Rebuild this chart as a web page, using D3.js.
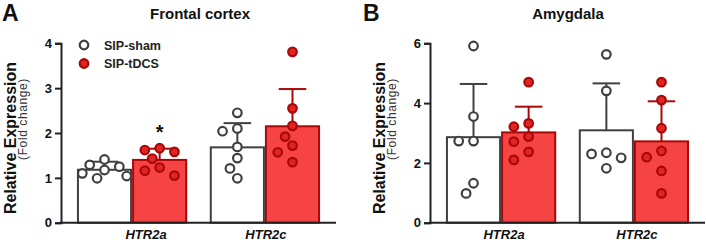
<!DOCTYPE html>
<html>
<head>
<meta charset="UTF-8">
<script src="https://cdn.jsdelivr.net/npm/d3@7"></script>
<style>
  body { margin: 0; background: #fff; }
  text { font-family: "Liberation Sans", Arial, sans-serif; fill: #111; }
</style>
</head>
<body>
<svg width="706" height="243"></svg>
<script>
// genes on the x axis, groups inside each gene
var genes = ["HTR2a", "HTR2c"];
var groups = ["SIP-sham", "SIP-tDCS"];

// frontal cortex: bar means, SD tops, individual animals
var fcMean = [[1.18, 1.40], [1.68, 2.15]];
var fcSdTop = [[1.36, 1.65], [2.22, 2.98]];
var fcPoints = [
  [[1.41, 1.29, 1.25, 1.175, 1.10, 1.04, 0.99], [1.66, 1.62, 1.58, 1.43, 1.23, 1.16, 1.05]],
  [[2.45, 2.10, 2.04, 1.69, 1.44, 1.21, 0.99], [3.81, 2.55, 2.16, 1.92, 1.72, 1.57, 1.35]]
];

// amygdala
var amMean = [[2.86, 3.02], [3.09, 2.72]];
var amSdTop = [[4.64, 3.88], [4.66, 4.06]];
var amPoints = [
  [[5.91, 3.55, 2.73, 2.73, 1.32, 0.98], [4.70, 3.32, 3.21, 2.88, 2.71, 2.37, 2.10]],
  [[5.63, 4.41, 2.34, 2.30, 2.17, 1.82], [4.70, 4.10, 3.16, 2.40, 2.19, 1.73, 0.98]]
];

var fcTicks = [0, 1, 2, 3, 4];
var amTicks = [0, 2, 4, 6];

var col = {
  "SIP-sham": {fill: "#ffffff", stroke: "#404040", dot: "#ffffff"},
  "SIP-tDCS": {fill: "#f64444", stroke: "#a80808", dot: "#e02525"}
};

var svg = d3.select("svg");

function panel(o) {
  var g = svg.append("g");
  var y = d3.scaleLinear().domain([0, o.max]).range([222.7, 43.3]);
  var x0 = d3.scaleBand().domain(genes).range([o.x0, o.x1]).paddingInner(0.17).paddingOuter(0.12);
  var x1 = d3.scaleBand().domain(groups).range([0, x0.bandwidth()]);
  var r = 4.3;

  g.append("text").attr("x", o.letterX).attr("y", 21)
    .style("font-size", "23px").style("font-weight", "bold").text(o.letter);
  g.append("text").attr("x", o.titleX).attr("y", 19).attr("text-anchor", "middle")
    .style("font-size", "15px").style("font-weight", "bold").text(o.title);

  // y labels
  g.append("text").attr("transform", "translate(" + (o.x0 - 45.5) + ",138) rotate(-90)")
    .attr("text-anchor", "middle").style("font-size", "16px").style("font-weight", "bold")
    .text("Relative Expression");
  g.append("text").attr("transform", "translate(" + (o.x0 - 34) + ",119) rotate(-90)")
    .attr("text-anchor", "middle").style("font-size", "12px").style("letter-spacing", "0.6px")
    .style("fill", "#333").text("(Fold change)");

  genes.forEach(function (gene, gi) {
    groups.forEach(function (grp, si) {
      var bx = x0(gene) + x1(grp), bw = x1.bandwidth(), cx = bx + bw / 2;
      var c = col[grp];
      // error bar (upper only)
      g.append("line").attr("x1", cx).attr("x2", cx)
        .attr("y1", y(o.mean[gi][si])).attr("y2", y(o.sd[gi][si]))
        .attr("stroke", c.stroke).attr("stroke-width", 2);
      g.append("line").attr("x1", cx - bw / 4).attr("x2", cx + bw / 4)
        .attr("y1", y(o.sd[gi][si])).attr("y2", y(o.sd[gi][si]))
        .attr("stroke", c.stroke).attr("stroke-width", 2);
      g.append("rect").attr("x", bx + 1).attr("width", bw - 2)
        .attr("y", y(o.mean[gi][si])).attr("height", y(0) - y(o.mean[gi][si]))
        .attr("fill", c.fill).attr("stroke", c.stroke).attr("stroke-width", 2);

      // simple greedy swarm so dots don't sit on top of each other
      var placed = [], step = 7.4;
      var cand = [0, -1, 1, -2, 2, -3, 3];
      o.pts[gi][si].forEach(function (v) {
        var py = y(v), px = cx;
        for (var k = 0; k < cand.length; k++) {
          var tx = cx + cand[k] * step;
          var hit = placed.some(function (p) {
            return Math.hypot(p[0] - tx, p[1] - py) < 2 * r + 2.5;
          });
          if (!hit) { px = tx; break; }
        }
        placed.push([px, py]);
      });
      g.selectAll(null).data(placed).enter().append("circle")
        .attr("cx", function (d) { return d[0]; }).attr("cy", function (d) { return d[1]; })
        .attr("r", r).attr("fill", c.dot).attr("stroke", c.stroke).attr("stroke-width", 2.2);
    });
  });

  // axes
  var ya = g.append("g").attr("transform", "translate(" + o.x0 + ",0)")
    .call(d3.axisLeft(y).tickValues(o.ticks).tickSize(6).tickFormat(d3.format("d")));
  ya.select(".domain").attr("stroke", "#222").attr("stroke-width", 2);
  ya.selectAll(".tick line").attr("stroke", "#222").attr("stroke-width", 2);
  ya.selectAll(".tick text").style("font-size", "13px").style("font-weight", "bold")
    .style("font-family", "Liberation Sans, Arial, sans-serif").attr("fill", "#111");

  var xa = g.append("g").attr("transform", "translate(0," + y(0) + ")")
    .call(d3.axisBottom(x0).tickSize(0).tickPadding(7));
  xa.select(".domain").attr("stroke", "#222").attr("stroke-width", 2)
    .attr("d", "M" + (o.x0 - 1) + ",0H" + o.x1);
  xa.selectAll(".tick text").style("font-size", "13px").style("font-weight", "bold")
    .style("font-style", "italic").style("font-family", "Liberation Sans, Arial, sans-serif")
    .attr("fill", "#111").attr("dx", function (d, i) { return o.labelDx[i]; });
  return {g: g, x0: x0, x1: x1, y: y};
}

var pa = panel({letter: "A", letterX: 2, title: "Frontal cortex", titleX: 200,
  x0: 61, x1: 336, max: 4, ticks: fcTicks, mean: fcMean, sd: fcSdTop, pts: fcPoints,
  labelDx: [14, 1]});
var pb = panel({letter: "B", letterX: 363, title: "Amygdala", titleX: 568,
  x0: 430, x1: 705, max: 6, ticks: amTicks, mean: amMean, sd: amSdTop, pts: amPoints,
  labelDx: [3, 3]});

// significance mark
pa.g.append("text").attr("x", pa.x0("HTR2a") + pa.x1("SIP-tDCS") + pa.x1.bandwidth() / 2)
  .attr("y", pa.y(1.65) - 10).attr("text-anchor", "middle")
  .style("font-size", "20px").style("font-weight", "bold").text("*");

// legend
var lg = pa.g.append("g").attr("transform", "translate(84,45)");
groups.forEach(function (grp, i) {
  lg.append("circle").attr("cx", 0).attr("cy", i * 18.5).attr("r", 4.3)
    .attr("fill", col[grp].dot).attr("stroke", col[grp].stroke).attr("stroke-width", 2.2);
  lg.append("text").attr("x", 20).attr("y", i * 18.5 + 4.5)
    .style("font-size", "12.5px").style("font-weight", "bold").style("fill", "#222").text(grp);
});
</script>
</body>
</html>
